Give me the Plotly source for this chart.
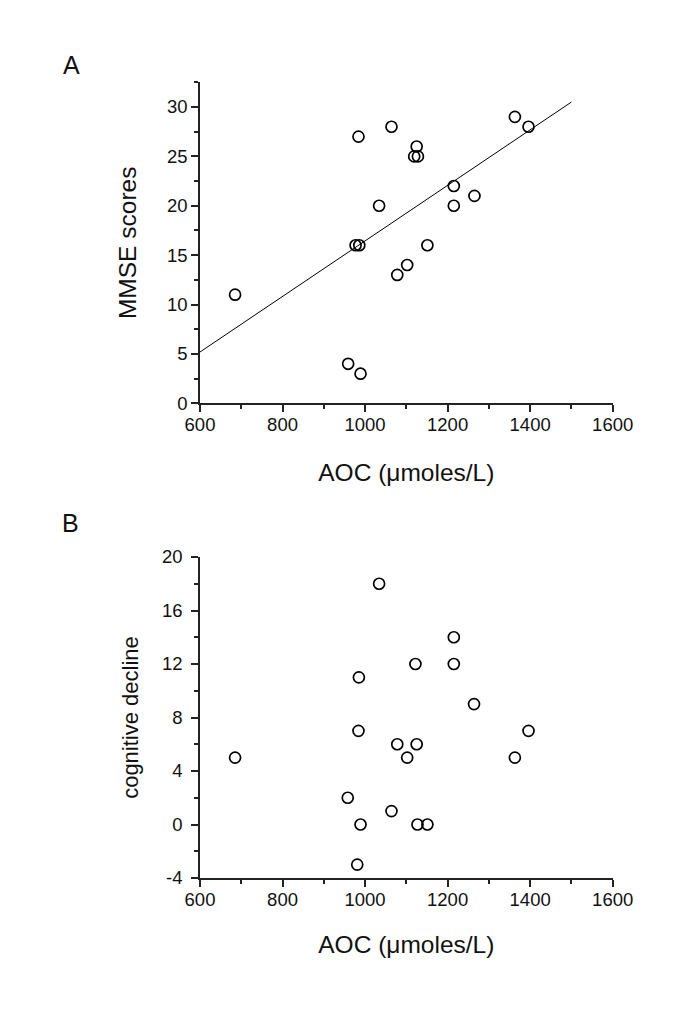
import numpy as np
import plotly.graph_objects as go

# Panel A data: AOC (µmoles/L) vs MMSE scores
aoc_a = [685, 984, 1064, 1125, 1119, 1128, 1034, 977, 986, 1151, 1102, 1078,
         1215, 1215, 1265, 1363, 1396, 959, 989]
mmse = [11, 27, 28, 26, 25, 25, 20, 16, 16, 16, 14, 13, 22, 20, 21, 29, 28, 4, 3]

# Panel B data: AOC vs cognitive decline
aoc_b = [1034, 1215, 1122, 1215, 985, 1264, 984, 1396, 1078, 1125, 685, 1102,
         1363, 958, 1064, 989, 1127, 1151, 981]
decline = [18, 14, 12, 12, 11, 9, 7, 7, 6, 6, 5, 5, 5, 2, 1, 0, 0, 0, -3]

# Tick labels for panel B y axis (plain hyphen minus as in the original)
decline_ticks = [-4, 0, 4, 8, 12, 16, 20]
decline_ticktext = ["-4", "0", "4", "8", "12", "16", "20"]

fit_x_range = [600, 1500]
slope, intercept = np.polyfit(aoc_a, mmse, 1)
fit_x = np.array(fit_x_range, dtype=float)
fit_y = slope * fit_x + intercept

W, H = 685, 1027
OFF = 8  # page body margin compensation
FONT = "Liberation Sans, Arial, sans-serif"
AX_COLOR = "#222222"

fig = go.Figure()
marker = dict(symbol="circle-open", size=11, color="black", line=dict(width=1.7, color="black"))
fig.add_trace(go.Scatter(x=aoc_a, y=mmse, mode="markers", marker=marker,
                         xaxis="x", yaxis="y", showlegend=False))
fig.add_trace(go.Scatter(x=fit_x, y=fit_y, mode="lines", line=dict(color="black", width=1),
                         xaxis="x", yaxis="y", showlegend=False))
fig.add_trace(go.Scatter(x=aoc_b, y=decline, mode="markers", marker=marker,
                         xaxis="x2", yaxis="y2", showlegend=False))

xd = [(200 - OFF) / W, (612.7 - OFF) / W]
ya = [1 - (403.3 - OFF) / H, 1 - (82.3 - OFF) / H]
yb = [1 - (878 - OFF) / H, 1 - (557 - OFF) / H]

def axis_common():
    return dict(showline=True, linecolor=AX_COLOR, linewidth=1.6, ticks="outside",
                ticklen=7, tickwidth=1.6, tickcolor=AX_COLOR, showgrid=False,
                zeroline=False, tickfont=dict(family=FONT, size=18.5, color="#111"),
                mirror=False, automargin=False)

def xaxis_def(anchor, standoff):
    d = axis_common()
    d.update(domain=xd, anchor=anchor, range=[600, 1600], dtick=200, tick0=600,
             ticklabelstandoff=-3,
             minor=dict(dtick=100, ticklen=4, tickwidth=1.6, tickcolor=AX_COLOR, ticks="outside"),
             title=dict(text="AOC (\u03bcmoles/L)", font=dict(family=FONT, size=24.5, color="#111"),
                        standoff=standoff))
    return d

x1 = xaxis_def("y", 30)
x2 = xaxis_def("y2", 27)

y1 = axis_common()
y1.update(domain=ya, anchor="x", range=[0, 32.5], dtick=5, tick0=0,
          minor=dict(dtick=2.5, ticklen=4, tickwidth=1.6, tickcolor=AX_COLOR, ticks="outside"),
          title=dict(text="MMSE scores", font=dict(family=FONT, size=24.5, color="#111"), standoff=23))

y2 = axis_common()
y2.update(domain=yb, anchor="x2", range=[-4, 20],
          tickmode="array", tickvals=decline_ticks, ticktext=decline_ticktext,
          ticklabelstandoff=5,
          minor=dict(dtick=2, tick0=0, ticklen=4, tickwidth=1.6, tickcolor=AX_COLOR, ticks="outside"),
          title=dict(text="cognitive decline", font=dict(family=FONT, size=22, color="#111"), standoff=17))

fig.update_layout(
    template="simple_white",
    width=W, height=H, autosize=False,
    margin=dict(l=0, r=0, t=0, b=0, pad=0, autoexpand=False),
    paper_bgcolor="white", plot_bgcolor="white",
    xaxis=x1, yaxis=y1, xaxis2=x2, yaxis2=y2,
    annotations=[
        dict(text="A", x=(72 - OFF) / W, y=1 - (65 - OFF) / H, xref="paper", yref="paper", showarrow=False,
             font=dict(family=FONT, size=25, color="#111"), xanchor="center", yanchor="middle"),
        dict(text="B", x=(71 - OFF) / W, y=1 - (523 - OFF) / H, xref="paper", yref="paper", showarrow=False,
             font=dict(family=FONT, size=25, color="#111"), xanchor="center", yanchor="middle"),
    ],
)

fig.write_html("out.html")
